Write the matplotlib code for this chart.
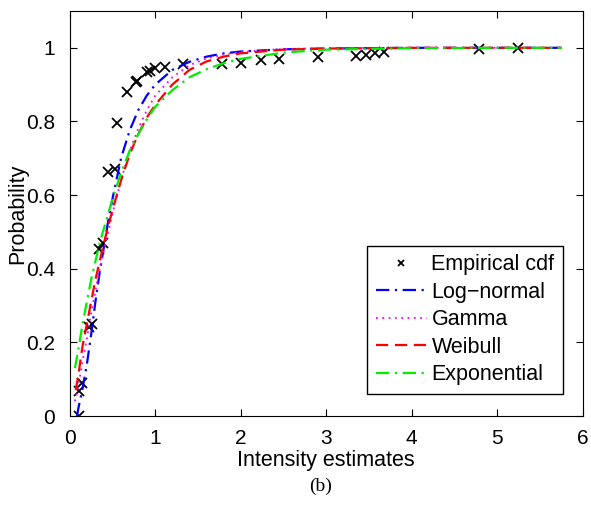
import matplotlib
matplotlib.use("Agg")
import matplotlib.pyplot as plt
import numpy as np

plt.rcParams['font.family'] = ['Liberation Sans', 'DejaVu Sans']

# empirical cdf points
emp_x = [0.11, 0.11, 0.14, 0.23, 0.26, 0.34, 0.39, 0.45, 0.53, 0.555, 0.665, 0.77, 0.79,
         0.90, 0.94, 1.00, 1.11, 1.33, 1.78, 2.00, 2.24, 2.45, 2.90, 3.35, 3.46, 3.57, 3.67,
         4.79, 5.24]
emp_y = [0.0, 0.069, 0.089, 0.243, 0.25, 0.453, 0.469, 0.664, 0.670, 0.797, 0.880, 0.906, 0.910,
         0.934, 0.936, 0.945, 0.949, 0.956, 0.956, 0.960, 0.966, 0.970, 0.975, 0.978, 0.981, 0.985, 0.990,
         0.996, 0.999]

# fitted cdf curves, sampled by eye
logn_x = [0.085, 0.1, 0.15, 0.2, 0.25, 0.3, 0.35, 0.4, 0.45, 0.5, 0.6, 0.7, 0.8, 0.9, 1.0,
          1.2, 1.4, 1.6, 1.8, 2.0, 2.5, 3.0, 4.0, 5.0, 5.75]
logn_y = [0.0, 0.02, 0.075, 0.14, 0.22, 0.31, 0.39, 0.46, 0.53, 0.59, 0.70, 0.775, 0.83, 0.87, 0.90,
          0.94, 0.962, 0.976, 0.985, 0.99, 0.996, 0.998, 1.0, 1.0, 1.0]

gam_x = [0.06, 0.1, 0.15, 0.2, 0.25, 0.3, 0.35, 0.4, 0.45, 0.5, 0.6, 0.7, 0.8, 0.9, 1.0,
         1.2, 1.4, 1.6, 1.8, 2.0, 2.5, 3.0, 4.0, 5.0, 5.75]
gam_y = [0.04, 0.08, 0.15, 0.21, 0.28, 0.34, 0.40, 0.45, 0.50, 0.55, 0.64, 0.72, 0.78, 0.83, 0.87,
         0.92, 0.953, 0.971, 0.982, 0.989, 0.997, 0.999, 1.0, 1.0, 1.0]

weib_x = [0.07, 0.1, 0.15, 0.2, 0.25, 0.3, 0.35, 0.4, 0.45, 0.5, 0.6, 0.7, 0.8, 0.9, 1.0,
          1.2, 1.4, 1.6, 1.8, 2.0, 2.5, 3.0, 4.0, 5.0, 5.75]
weib_y = [0.07, 0.11, 0.19, 0.25, 0.31, 0.37, 0.42, 0.47, 0.515, 0.56, 0.64, 0.71, 0.765, 0.81, 0.845,
          0.90, 0.94, 0.963, 0.976, 0.985, 0.995, 0.998, 1.0, 1.0, 1.0]

expo_x = [0.06, 0.1, 0.15, 0.2, 0.25, 0.3, 0.35, 0.4, 0.45, 0.5, 0.6, 0.7, 0.8, 0.9, 1.0,
          1.2, 1.4, 1.6, 1.8, 2.0, 2.5, 3.0, 4.0, 5.0, 5.75]
expo_y = [0.13, 0.18, 0.25, 0.31, 0.37, 0.42, 0.47, 0.51, 0.55, 0.59, 0.66, 0.72, 0.765, 0.805, 0.84,
          0.885, 0.92, 0.942, 0.958, 0.97, 0.987, 0.995, 0.999, 1.0, 1.0]

fig = plt.figure(figsize=(5.91, 5.12), dpi=100)
ax = fig.add_axes([0.118, 0.1875, 0.868, 0.791])

ax.plot(emp_x, emp_y, 'x', color='black', markersize=7, markeredgewidth=1.3, label='Empirical cdf')
ax.plot(logn_x, logn_y, color='blue', lw=1.6, dashes=(6, 2.5, 1, 2.5), label='Log\u2212normal')
ax.plot(gam_x, gam_y, color='magenta', lw=1.3, dashes=(1, 2.5), label='Gamma')
ax.plot(weib_x, weib_y, color='red', lw=1.6, dashes=(5.5, 3), label='Weibull')
ax.plot(expo_x, expo_y, color='#00ee00', lw=1.6, dashes=(6, 2.5, 1, 2.5), label='Exponential')

ax.set_xlim(0, 6)
ax.set_ylim(0, 1.1)
ax.set_xticks(range(0, 7))
ax.set_yticks([0, 0.2, 0.4, 0.6, 0.8, 1])
ax.set_yticklabels(['0', '0.2', '0.4', '0.6', '0.8', '1'])
ax.tick_params(direction='in', top=True, right=True, labelsize=15, length=5)
ax.tick_params(axis='x', pad=9)
ax.tick_params(axis='y', pad=10.5)
ax.set_xlabel('Intensity estimates', fontsize=15.5, labelpad=2)
ax.set_ylabel('Probability', fontsize=15.5, labelpad=-1.5)

ax.legend(loc='lower right', bbox_to_anchor=(0.962, 0.055), fontsize=15.5, handlelength=2.4,
          markerscale=0.6, fancybox=False, edgecolor='black', framealpha=1,
          borderpad=0.4, labelspacing=0.3, handletextpad=0.2, borderaxespad=0)

fig.text(0.543, 0.05, '(b)', fontsize=14, family='Liberation Serif', ha='center', va='center')

fig.savefig('out.png', dpi=100)
